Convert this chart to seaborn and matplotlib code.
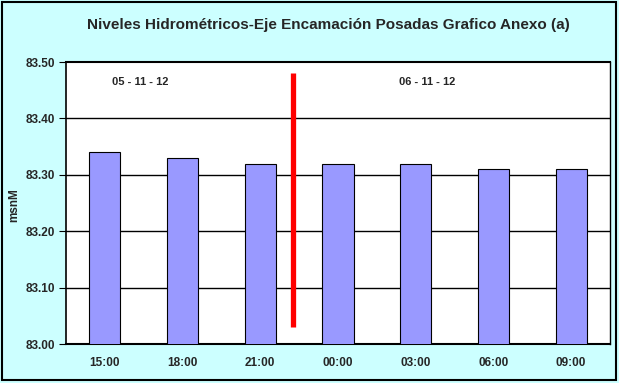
import matplotlib
matplotlib.use("Agg")
import matplotlib.pyplot as plt
import seaborn as sns
import pandas as pd
from matplotlib.patches import Rectangle
from matplotlib.ticker import FixedLocator

hours = ["15:00", "18:00", "21:00", "00:00", "03:00", "06:00", "09:00"]
levels = [83.34, 83.33, 83.32, 83.32, 83.32, 83.31, 83.31]
yticks = [83.00, 83.10, 83.20, 83.30, 83.40, 83.50]
title = "Niveles Hidrométricos-Eje Encamación Posadas Grafico Anexo (a)"
date1 = "05 - 11 - 12"
date2 = "06 - 11 - 12"
ylabel = "msnM"

sns.set_theme(style="white")
plt.rcParams['font.family'] = ['Liberation Sans', 'DejaVu Sans']

df = pd.DataFrame({"hora": hours, "nivel": levels})

fig = plt.figure(figsize=(6.19, 3.83), dpi=100)
fig.patch.set_facecolor("#CCFFFF")
fig.patches.append(Rectangle((0.004, 0.008), 0.991, 0.986, transform=fig.transFigure,
                             fill=False, edgecolor="black", linewidth=1.5))

ax = fig.add_axes([0.1066, 0.1018, 0.8789, 0.7362])
ax.set_facecolor("white")

sns.barplot(data=df, x="hora", y="nivel", ax=ax, color="#9999FF", saturation=1,
            width=0.4, edgecolor="black", linewidth=0.8, zorder=3)

ax.set_ylim(83.0, 83.5)
ax.set_xlim(-0.5, len(hours) - 0.5)
ax.set_yticks(yticks)
ax.set_yticklabels([f"{v:.2f}" for v in yticks], fontsize=8.5, fontweight="bold")
ax.set_xticks(range(len(hours)))
ax.set_xticklabels(hours, fontsize=8.5, fontweight="bold")
ax.xaxis.set_minor_locator(FixedLocator([i - 0.5 for i in range(len(hours) + 1)]))
ax.tick_params(axis="x", which="major", length=0, pad=9)
ax.tick_params(axis="x", which="minor", length=4, width=0.8, color="black", direction="out")
ax.tick_params(axis="y", length=5, width=0.8, color="black", direction="out", left=True, pad=3)

for v in yticks[1:-1]:
    ax.axhline(v, color="black", linewidth=1, zorder=1)

for s in ["left", "bottom", "top", "right"]:
    ax.spines[s].set_color("black")
ax.spines["left"].set_linewidth(1.2)
ax.spines["bottom"].set_linewidth(1.5)
ax.spines["top"].set_linewidth(1.5)
ax.spines["right"].set_linewidth(1.0)

ax.plot([2.42, 2.42], [83.03, 83.48], color="red", linewidth=3.8, solid_capstyle="butt", zorder=4)

ax.text(0.45, 83.465, date1, fontsize=8, fontweight="bold", ha="center", va="center")
ax.text(4.15, 83.465, date2, fontsize=8, fontweight="bold", ha="center", va="center")

ax.set_xlabel("")
ax.set_ylabel("")
fig.text(14 / 619, 1 - 205 / 383, ylabel, fontsize=8.5, fontweight="bold",
         rotation=90, ha="center", va="center")

fig.text(0.53, 0.935, title, fontsize=11, fontweight="bold", ha="center", va="center")

fig.savefig("out.png", dpi=100, facecolor=fig.get_facecolor())
